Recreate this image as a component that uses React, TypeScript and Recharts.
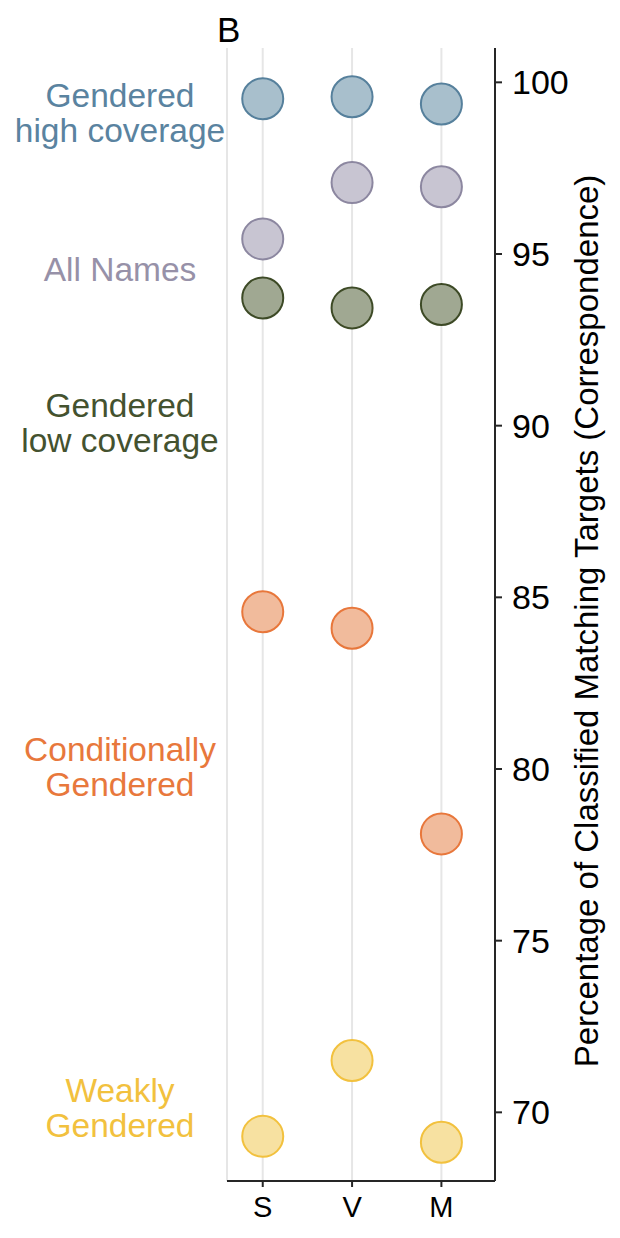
import { ScatterChart, Scatter, XAxis, YAxis, CartesianGrid } from 'recharts'

const categories = ['S', 'V', 'M']
const yTicks = [70, 75, 80, 85, 90, 95, 100]

const highCoverage = [99.52, 99.58, 99.37]
const allNames = [95.44, 97.08, 96.96]
const lowCoverage = [93.72, 93.43, 93.53]
const conditionally = [84.58, 84.1, 78.11]
const weakly = [69.3, 71.51, 69.13]

const FONT = '"Liberation Sans", Arial, Helvetica, sans-serif'

const SERIES = [
  { name: 'high', values: highCoverage, fill: '#a8bfcc', stroke: '#56809c' },
  { name: 'all', values: allNames, fill: '#c8c5d2', stroke: '#8c87a0' },
  { name: 'low', values: lowCoverage, fill: '#a0a892', stroke: '#3d4a26' },
  { name: 'cond', values: conditionally, fill: '#f1bb9c', stroke: '#e8773b' },
  { name: 'weak', values: weakly, fill: '#f7e1a1', stroke: '#f2c13e' },
]

// left-hand group labels (lines, baseline of first line, colour)
const GROUP_LABELS = [
  { lines: ['Gendered', 'high coverage'], y: 107, color: '#5a83a0' },
  { lines: ['All Names'], y: 281, color: '#9791a8' },
  { lines: ['Gendered', 'low coverage'], y: 417, color: '#44522f' },
  { lines: ['Conditionally', 'Gendered'], y: 761, color: '#e8783c' },
  { lines: ['Weakly', 'Gendered'], y: 1102, color: '#f2c13e' },
]

const dot = (fill: string, stroke: string) => (props: any) => (
  <circle cx={props.cx} cy={props.cy} r={20.5} fill={fill} stroke={stroke} strokeWidth={2} />
)

export default function App() {
  return (
    <div style={{ position: 'absolute', left: 0, top: 0, width: 620, height: 1238, fontFamily: FONT }}>
      <ScatterChart width={620} height={1238} margin={{ top: 48, right: 0, bottom: 0, left: 227 }}>
        <CartesianGrid horizontal={false} stroke="#e6e6e6" strokeWidth={2} />
        <XAxis
          type="number"
          dataKey="x"
          domain={[-0.4, 2.6]}
          ticks={[0, 1, 2]}
          tickFormatter={(v: number) => categories[v]}
          height={57}
          tickSize={6}
          tickMargin={9}
          axisLine={{ stroke: '#262626', strokeWidth: 2 }}
          tickLine={{ stroke: '#262626', strokeWidth: 2 }}
          tick={{ fill: '#000', fontSize: 29, fontFamily: FONT }}
        />
        <YAxis
          type="number"
          dataKey="y"
          orientation="right"
          domain={[68, 101]}
          ticks={yTicks}
          width={125}
          tickSize={7}
          tickMargin={10}
          axisLine={{ stroke: '#262626', strokeWidth: 2 }}
          tickLine={{ stroke: '#262626', strokeWidth: 2 }}
          tick={{ fill: '#000', fontSize: 34, fontFamily: FONT, textAnchor: 'start' }}
        />
        {SERIES.map(s => (
          <Scatter
            key={s.name}
            data={s.values.map((v, i) => ({ x: i, y: v }))}
            shape={dot(s.fill, s.stroke)}
            isAnimationActive={false}
          />
        ))}
      </ScatterChart>
      <svg
        width={620}
        height={1238}
        style={{ position: 'absolute', left: 0, top: 0, pointerEvents: 'none' }}
      >
        <text x={217} y={42} fontSize={35} fontFamily={FONT} fill="#000">B</text>
        {GROUP_LABELS.map(g =>
          g.lines.map((line, i) => (
            <text
              key={g.y + '-' + i}
              x={120}
              y={g.y + i * 35}
              textAnchor="middle"
              fontSize={33.5}
              fontFamily={FONT}
              fill={g.color}
            >
              {line}
            </text>
          ))
        )}
        <text
          x={598}
          y={621}
          transform="rotate(-90, 598, 621)"
          textAnchor="middle"
          fontSize={33}
          fontFamily={FONT}
          fill="#000"
        >
          Percentage of Classified Matching Targets (Correspondence)
        </text>
      </svg>
    </div>
  )
}
